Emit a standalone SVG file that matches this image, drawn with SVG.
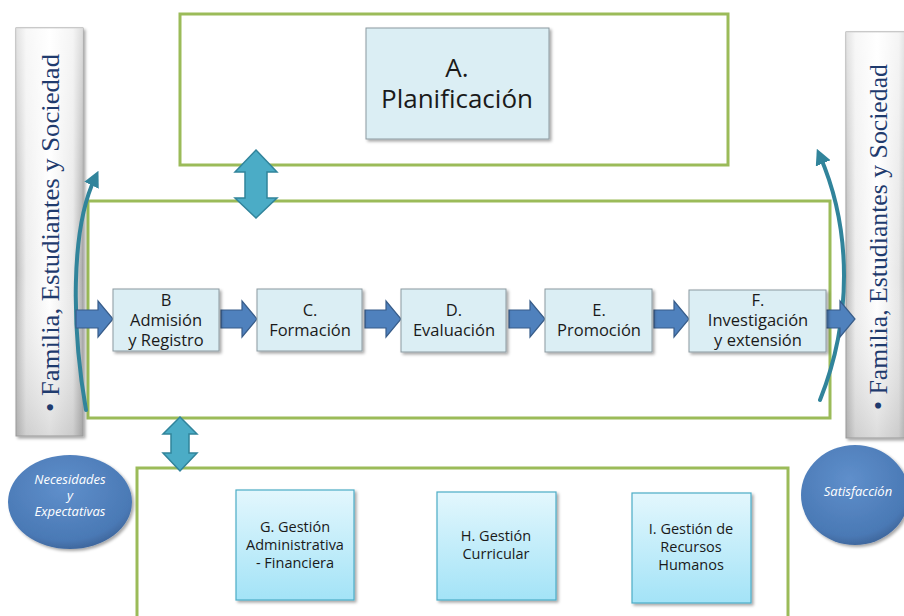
<svg xmlns="http://www.w3.org/2000/svg" width="904" height="616" viewBox="0 0 904 616">
  <defs>
    <linearGradient id="pillar" x1="0" y1="0" x2="1" y2="0">
      <stop offset="0" stop-color="#b8b8b8"/>
      <stop offset="0.15" stop-color="#ececec"/>
      <stop offset="0.5" stop-color="#ffffff"/>
      <stop offset="0.85" stop-color="#e6e6e6"/>
      <stop offset="1" stop-color="#a8a8a8"/>
    </linearGradient>
    <linearGradient id="pillarV" x1="0" y1="0" x2="0" y2="1">
      <stop offset="0" stop-color="#ffffff" stop-opacity="0.6"/>
      <stop offset="0.6" stop-color="#ffffff" stop-opacity="0"/>
      <stop offset="1" stop-color="#999" stop-opacity="0.35"/>
    </linearGradient>
    <linearGradient id="cyanBox" x1="0" y1="0" x2="0" y2="1">
      <stop offset="0" stop-color="#e3f7fd"/>
      <stop offset="1" stop-color="#a3e3f7"/>
    </linearGradient>
    <radialGradient id="ball" cx="0.45" cy="0.35" r="0.7">
      <stop offset="0" stop-color="#5f8fcb"/>
      <stop offset="0.8" stop-color="#4a79b5"/>
      <stop offset="1" stop-color="#3a5f92"/>
    </radialGradient>
    <filter id="shadow" x="-10%" y="-10%" width="130%" height="130%">
      <feDropShadow dx="2" dy="2" stdDeviation="1.5" flood-color="#000" flood-opacity="0.35"/>
    </filter>
    <marker id="curveHead" viewBox="0 0 10 10" refX="5" refY="5" markerWidth="4" markerHeight="4" orient="auto">
      <path d="M0,0 L10,5 L0,10 z" fill="#31849b"/>
    </marker>
  </defs>
  <style>
    .frame { fill: none; stroke: #9bbb59; stroke-width: 3; }
    .proc { fill: #dbeef4; stroke: #8c9aa0; stroke-width: 1; filter: url(#shadow); }
    .sup { fill: url(#cyanBox); stroke: #4bacc6; stroke-width: 1.2; filter: url(#shadow); }
    .pill { fill: url(#pillar); stroke: #9a9a9a; stroke-width: 1; }
    .lbl { font-family: "Open Sans", "Noto Sans", sans-serif; fill: #1a1a1a; text-anchor: middle; }
    .side { font-family: "Liberation Serif", "DejaVu Serif", serif; font-size: 26px; fill: #1f3b6e; }
    .ball-t { font-family: "Open Sans", "Noto Sans", sans-serif; font-style: italic; font-size: 13px; fill: #ffffff; text-anchor: middle; }
    .flow { fill: #4f81bd; stroke: #385d8a; stroke-width: 1.2; }
    .dbl { fill: #4bacc6; stroke: #31849b; stroke-width: 1.5; }
    .curve { fill: none; stroke: #31849b; stroke-width: 4; stroke-linecap: round; }
  </style>

  <rect width="904" height="616" fill="#ffffff"/>

  <!-- frames -->
  <g id="frame-top"><rect class="frame" x="180" y="14" width="548" height="151"/></g>
  <g id="frame-mid"><rect class="frame" x="88" y="201" width="742" height="217"/></g>
  <g id="frame-bottom"><rect class="frame" x="137" y="468" width="651" height="160"/></g>

  <!-- side pillars -->
  <g id="pillar-left">
    <rect class="pill" x="16" y="28" width="67" height="408" filter="url(#shadow)"/>
    <rect x="16" y="28" width="67" height="408" fill="url(#pillarV)"/>
    <text class="side" transform="translate(59,412) rotate(-90)" textLength="358" lengthAdjust="spacingAndGlyphs">• Familia, Estudiantes y Sociedad</text>
  </g>
  <g id="pillar-right">
    <rect class="pill" x="846" y="32" width="62" height="406" filter="url(#shadow)"/>
    <rect x="846" y="32" width="62" height="406" fill="url(#pillarV)"/>
    <text class="side" transform="translate(887,410) rotate(-90)" textLength="346" lengthAdjust="spacingAndGlyphs">• Familia, Estudiantes y Sociedad</text>
  </g>

  <!-- connectors -->
  <g id="connectors">
    <!-- curved return arrows -->
    <path class="curve" d="M86,410 C72,330 70,230 95,178" marker-end="url(#curveHead)"/>
    <path class="curve" d="M820,400 C852,320 852,230 820,156" marker-end="url(#curveHead)"/>
    <!-- process flow block arrows -->
    <path class="flow" d="M76,310 h22 v-9 l15,18 l-15,18 v-9 h-22 z"/>
    <path class="flow" d="M221,310 h21 v-9 l15,18 l-15,18 v-9 h-21 z"/>
    <path class="flow" d="M365,310 h21 v-9 l15,18 l-15,18 v-9 h-21 z"/>
    <path class="flow" d="M509,310 h21 v-9 l15,18 l-15,18 v-9 h-21 z"/>
    <path class="flow" d="M654,310 h20 v-9 l15,18 l-15,18 v-9 h-20 z"/>
    <path class="flow" d="M818,310 h22 v-9 l15,18 l-15,18 v-9 h-22 z"/>
    <!-- double arrows between levels -->
    <path class="dbl" d="M256,150 l21,22 h-10 v26 h10 l-21,20 l-21,-20 h10 v-26 h-10 z"/>
    <path class="dbl" d="M180,417 l17,17 h-8 v19 h8 l-17,18 l-17,-18 h8 v-19 h-8 z"/>
  </g>

  <!-- planning -->
  <g id="node-a">
    <rect class="proc" x="366" y="28" width="183" height="111"/>
    <text class="lbl" font-size="26" x="457" y="77">A.</text>
    <text class="lbl" font-size="26" x="457" y="108">Planificación</text>
  </g>

  <!-- core process -->
  <g id="node-b">
    <rect class="proc" x="113" y="289" width="106" height="62"/>
    <text class="lbl" font-size="16.5" x="166" y="306">B</text>
    <text class="lbl" font-size="16.5" x="166" y="326">Admisión</text>
    <text class="lbl" font-size="16.5" x="166" y="346">y Registro</text>
  </g>
  <g id="node-c">
    <rect class="proc" x="257" y="289" width="105" height="62"/>
    <text class="lbl" font-size="16.5" x="310" y="316">C.</text>
    <text class="lbl" font-size="16.5" x="310" y="336">Formación</text>
  </g>
  <g id="node-d">
    <rect class="proc" x="401" y="289" width="105" height="63"/>
    <text class="lbl" font-size="16.5" x="454" y="316">D.</text>
    <text class="lbl" font-size="16.5" x="454" y="336">Evaluación</text>
  </g>
  <g id="node-e">
    <rect class="proc" x="545" y="289" width="107" height="63"/>
    <text class="lbl" font-size="16.5" x="599" y="316">E.</text>
    <text class="lbl" font-size="16.5" x="599" y="336">Promoción</text>
  </g>
  <g id="node-f">
    <rect class="proc" x="689" y="290" width="137" height="62"/>
    <text class="lbl" font-size="16.5" x="758" y="306">F.</text>
    <text class="lbl" font-size="16.5" x="758" y="326">Investigación</text>
    <text class="lbl" font-size="16.5" x="758" y="346">y extensión</text>
  </g>

  <!-- support processes -->
  <g id="node-g">
    <rect class="sup" x="236" y="490" width="118" height="110"/>
    <text class="lbl" font-size="14.5" x="295" y="532">G. Gestión</text>
    <text class="lbl" font-size="14.5" x="295" y="550">Administrativa</text>
    <text class="lbl" font-size="14.5" x="295" y="568">- Financiera</text>
  </g>
  <g id="node-h">
    <rect class="sup" x="437" y="492" width="119" height="108"/>
    <text class="lbl" font-size="14.5" x="496" y="541">H. Gestión</text>
    <text class="lbl" font-size="14.5" x="496" y="559">Curricular</text>
  </g>
  <g id="node-i">
    <rect class="sup" x="632" y="493" width="119" height="110"/>
    <text class="lbl" font-size="14.5" x="691" y="534">I. Gestión de</text>
    <text class="lbl" font-size="14.5" x="691" y="552">Recursos</text>
    <text class="lbl" font-size="14.5" x="691" y="570">Humanos</text>
  </g>

  <!-- inputs / outputs -->
  <g id="node-needs">
    <ellipse cx="70" cy="502" rx="62" ry="47" fill="url(#ball)" filter="url(#shadow)"/>
    <text class="ball-t" x="70" y="484">Necesidades</text>
    <text class="ball-t" x="70" y="500">y</text>
    <text class="ball-t" x="70" y="516">Expectativas</text>
  </g>
  <g id="node-satisfaction">
    <ellipse cx="855" cy="495" rx="54" ry="50" fill="url(#ball)" filter="url(#shadow)"/>
    <text class="ball-t" x="858" y="496">Satisfacción</text>
  </g>
</svg>
